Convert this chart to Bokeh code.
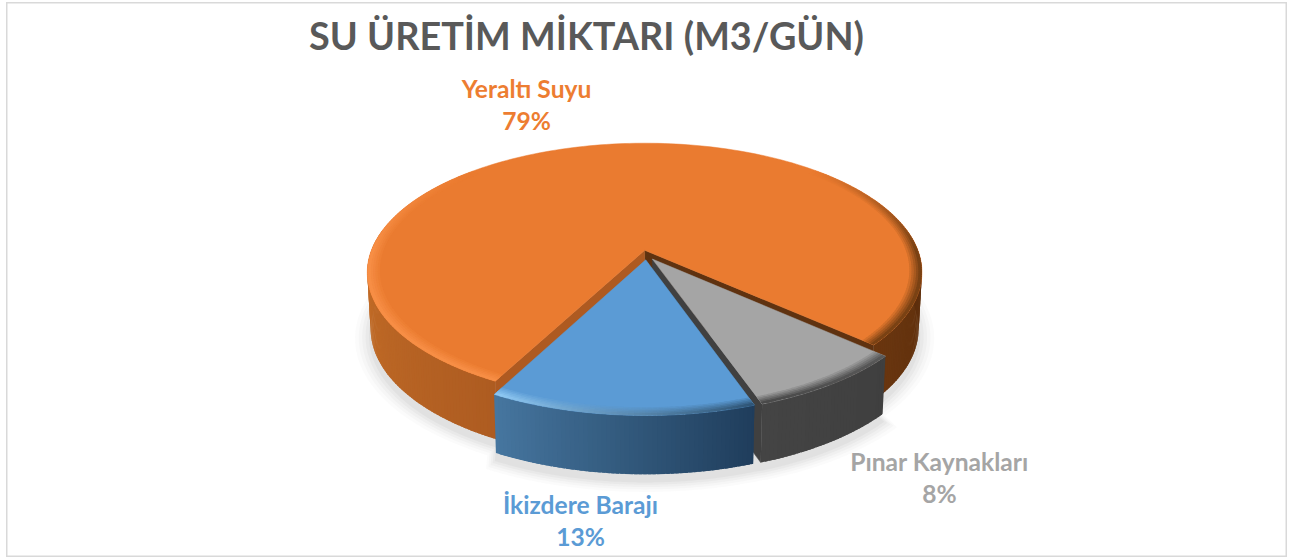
import numpy as np
from bokeh.plotting import figure
from bokeh.models import ColumnDataSource
from bokeh.core.properties import value
from bokeh.embed import file_html
from bokeh.resources import INLINE

# ---- data
title_text = "SU ÜRETİM MİKTARI (M3/GÜN)"
categories = ["Yeraltı Suyu", "İkizdere Barajı", "Pınar Kaynakları"]
percents = [79, 13, 8]

# ---- styles per slice
top_colors = ["#EA7B30", "#5B9BD5", "#A5A5A5"]
label_colors = ["#ED7D31", "#5B9BD5", "#A5A5A5"]
wall_from = ["#6A360F", "#46769F", "#444444"]
wall_to = ["#C06A27", "#1F3D5B", "#3F3F3F"]
rim_from = ["#7A4214", "#8CC6F2", "#4A4A4A"]
rim_to = ["#F78E45", "#2C5273", "#5A5A5A"]
cut_start = ["#5F3210", "#204060", "#404040"]
cut_end = ["#AE5A21", "#204060", "#404040"]

# ---- projection of the pie (page pixels)
W, H = 1281, 555
X0, Y0 = 646.0, 254.5
A, B, K = 127.0, 275.0, 0.172
DEPTH, EXPLODE, FIRST_ANGLE = 56.0, 0.038, 48.0
RIM = 0.04


def hex2rgb(c):
    return np.array([int(c[i:i + 2], 16) for i in (1, 3, 5)], float)


def mix(c1, c2, t):
    t = float(np.clip(t, 0, 1))
    r = hex2rgb(c1) * (1 - t) + hex2rgb(c2) * t
    return "#%02x%02x%02x" % tuple(int(round(q)) for q in r)


def proj(u, v, h=0.0):
    s = 1.0 / (1.0 - K * v)
    x = X0 + B * u * s * (1 - 0.012 * h)
    y = Y0 + A * v * s + h * DEPTH * s ** 0.25
    return x, y


def pt(th, r, off, h=0.0):
    t = np.radians(th)
    return proj(off[0] + r * np.sin(t), off[1] + r * np.cos(t), h)


p = figure(width=W, height=H, x_range=(6, 6 + W), y_range=(2 + H, 2),
           output_backend="svg", toolbar_location=None, min_border=0,
           margin=(2, 0, 0, 6), background_fill_color="white",
           border_fill_color="white", outline_line_color="#D9D9D9",
           outline_line_width=2)
p.axis.visible = False
p.grid.visible = False

# slice angles from the values
total = sum(percents)
edges = [FIRST_ANGLE]
for q in percents:
    edges.append(edges[-1] + 360.0 * q / total)
slices = []
for i in range(len(percents)):
    a0, a1 = edges[i], edges[i + 1]
    mid = np.radians((a0 + a1) / 2)
    off = (EXPLODE * np.sin(mid), EXPLODE * np.cos(mid))
    slices.append((i, a0, a1, off))

# soft shadow: one outline around all slices' bases
for g, alpha in [(0.055, 0.035), (0.042, 0.04), (0.03, 0.05), (0.018, 0.06), (0.006, 0.07)]:
    xs, ys = [], []
    for i, a0, a1, off in slices:
        for t in np.linspace(a0, a1, 120):
            q = pt(t, 1 + g, off, 1.0)
            xs.append(q[0])
            ys.append(q[1] + 7)
    p.patch(xs, ys, fill_color="#808080", fill_alpha=alpha, line_color=None)


def ang_norm(t):
    return (t + 180) % 360 - 180


def draw_slice(i, a0, a1, off):
    wx, wy, wc = [], [], []
    th = np.arange(a0, a1, 0.8).tolist() + [a1]
    for t0, t1 in zip(th[:-1], th[1:]):
        tm = ang_norm((t0 + t1) / 2)
        if abs(tm) > 100:
            continue
        if i == 0:
            c = mix("#6A360F", "#5A2D0D", (tm - 47) / 53) if tm > 0 else mix("#AE5C21", "#C87129", (-tm - 28) / 70)
        else:
            c = mix(wall_from[i], wall_to[i], (t0 - a0) / (a1 - a0))
        end = min(t1 + 0.6, a1)
        x0, y0 = pt(t0, 1, off)
        x1, y1 = pt(end, 1, off)
        x2, y2 = pt(end, 1, off, 1)
        x3, y3 = pt(t0, 1, off, 1)
        wx.append([x0, x1, x2, x3])
        wy.append([y0, y1, y2, y3])
        wc.append(c)
    if wx:
        p.patches(wx, wy, fill_color=wc, line_color=None)
    ax, ay = proj(off[0], off[1])
    bx, by = proj(off[0], off[1], 1)
    for ang, col in ((a0, cut_start[i]), (a1, cut_end[i])):
        if i == 1:
            continue
        if i == 2 and ang == a1:
            continue
        ex, ey = pt(ang, 1, off)
        fx, fy = pt(ang, 1, off, 1)
        p.patch([ax, ex, fx, bx], [ay, ey, fy, by], fill_color=col, line_color=col, line_width=0.5)
    th = np.linspace(a0, a1, 200)
    pts = [pt(t, 1, off) for t in th]
    p.patch([ax] + [q[0] for q in pts], [ay] + [q[1] for q in pts],
            fill_color=top_colors[i], line_color=top_colors[i], line_width=0.5)
    rx, ry, rc = [], [], []
    bands = 5
    th = np.arange(a0, a1, 1.0).tolist() + [a1]
    for b in range(bands):
        r0 = 1 - RIM * b / bands
        r1 = 1 - RIM * (b + 1) / bands
        for t0, t1 in zip(th[:-1], th[1:]):
            tm = ang_norm((t0 + t1) / 2)
            strength = np.clip((135 - abs(tm)) / 45, 0, 1) * (1 - b / bands)
            if strength <= 0:
                continue
            if i == 0:
                base = rim_from[0] if tm > 0 else rim_to[0]
            else:
                base = mix(rim_from[i], rim_to[i], (t0 - a0) / (a1 - a0))
            c = mix(top_colors[i], base, strength)
            end = min(t1 + 0.6, a1)
            x0, y0 = pt(t0, r0, off)
            x1, y1 = pt(end, r0, off)
            x2, y2 = pt(end, r1 - 0.004, off)
            x3, y3 = pt(t0, r1 - 0.004, off)
            rx.append([x0, x1, x2, x3])
            ry.append([y0, y1, y2, y3])
            rc.append(c)
    if rx:
        order = list(range(len(rx)))[::-1]
        p.patches([rx[k] for k in order], [ry[k] for k in order],
                  fill_color=[rc[k] for k in order], line_color=None)


for idx in (0, 2, 1):
    draw_slice(*slices[idx])

FONT = "Lato"
p.text([586], [34.5], text=[title_text], text_font=value(FONT), text_font_style="bold",
       text_font_size="37.8px", text_color="#595959", text_align="center", text_baseline="middle")

label_pos = [(526, 88), (580, 504), (939, 461)]
src = ColumnDataSource(dict(
    x=[q[0] for q in label_pos] * 2,
    y=[q[1] for q in label_pos] + [q[1] + 32 for q in label_pos],
    t=categories + ["%d%%" % q for q in percents],
    c=label_colors * 2,
))
p.text("x", "y", text="t", source=src, text_font=value(FONT), text_font_style="bold",
       text_font_size="24.6px", text_color="c", text_align="center", text_baseline="middle")

open("out.html", "w").write(file_html(p, INLINE))
